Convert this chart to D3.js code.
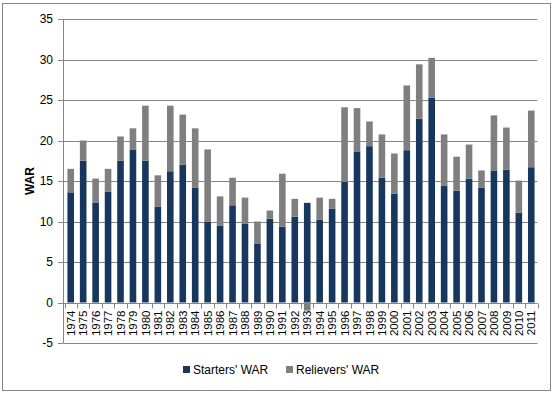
<!DOCTYPE html>
<html>
<head>
<meta charset="utf-8">
<script src="https://cdn.jsdelivr.net/npm/d3@7"></script>
<style>
  body { margin: 0; background: #fff; }
  text { font-family: "Liberation Sans", Arial, sans-serif; fill: #000; }
</style>
</head>
<body>
<div id="chart"></div>
<script>
const years = [1974, 1975, 1976, 1977, 1978, 1979, 1980, 1981, 1982, 1983,
    1984, 1985, 1986, 1987, 1988, 1989, 1990, 1991, 1992, 1993,
    1994, 1995, 1996, 1997, 1998, 1999, 2000, 2001, 2002, 2003,
    2004, 2005, 2006, 2007, 2008, 2009, 2010, 2011]
// starters' WAR
const starters = [13.6, 17.5, 12.3, 13.7, 17.5, 18.9, 17.5, 11.8, 16.2, 17.0,
    14.2, 10.0, 9.5, 12.0, 9.7, 7.3, 10.35, 9.35, 10.6, 12.3,
    10.2, 11.6, 14.9, 18.65, 19.3, 15.4, 13.45, 18.8, 22.7, 25.3,
    14.4, 13.8, 15.3, 14.2, 16.3, 16.4, 11.1, 16.7]
// relievers' WAR
const relievers = [2.9, 2.5, 3.0, 2.8, 3.0, 2.6, 6.8, 3.9, 8.1, 6.2,
    7.3, 8.9, 3.6, 3.4, 3.25, 2.7, 1.0, 6.55, 2.2, -1.0,
    2.75, 1.2, 9.2, 5.35, 3.05, 5.35, 4.95, 8.0, 6.7, 4.9,
    6.35, 4.2, 4.2, 2.1, 6.8, 5.2, 3.95, 7.0]
const seriesNames = ["Starters' WAR", "Relievers' WAR"]
const yTicks = [-5, 0, 5, 10, 15, 20, 25, 30, 35]

const width = 555
const height = 393
const colors = ["#17375e", "#7f7f7f"]
const gridColor = "#868686"

const svg = d3.select("#chart").append("svg")
    .attr("width", width)
    .attr("height", height)

// outer frame
svg.append("rect")
    .attr("x", 2.5).attr("y", 3.5)
    .attr("width", 548).attr("height", 387)
    .attr("fill", "#fff")
    .attr("stroke", gridColor)

const x = d3.scaleBand()
    .domain(years)
    .range([64.5, 537.5])
    .paddingInner(0.47)
    .paddingOuter(0.235)

const y = d3.scaleLinear()
    .domain([-5, 35])
    .range([343, 19])

// gridlines
svg.append("g")
    .selectAll("line")
    .data(yTicks)
    .join("line")
    .attr("x1", 63.5)
    .attr("x2", 537.5)
    .attr("y1", d => Math.round(y(d)) + 0.5)
    .attr("y2", d => Math.round(y(d)) + 0.5)
    .attr("stroke", gridColor)

// stacked bars (negative values go below zero on their own)
const rows = years.map((yr, i) => ({ year: yr, s: starters[i], r: relievers[i] }))
const segs = []
for (const d of rows) {
    segs.push({ year: d.year, k: 0, y0: 0, y1: d.s })
    if (d.r >= 0) segs.push({ year: d.year, k: 1, y0: d.s, y1: d.s + d.r })
    else segs.push({ year: d.year, k: 1, y0: d.r, y1: 0 })
}
svg.append("g")
    .selectAll("rect")
    .data(segs)
    .join("rect")
    .attr("x", d => x(d.year))
    .attr("width", x.bandwidth())
    .attr("y", d => y(d.y1))
    .attr("height", d => y(d.y0) - y(d.y1))
    .attr("fill", d => colors[d.k])

// y axis
const yAxis = svg.append("g")
yAxis.append("line")
    .attr("x1", 63.5).attr("x2", 63.5)
    .attr("y1", y(35)).attr("y2", y(-5))
    .attr("stroke", gridColor)
yAxis.selectAll(".tk")
    .data(yTicks)
    .join("line")
    .attr("x1", 58).attr("x2", 63.5)
    .attr("y1", d => Math.round(y(d)) + 0.5)
    .attr("y2", d => Math.round(y(d)) + 0.5)
    .attr("stroke", gridColor)
yAxis.selectAll("text")
    .data(yTicks)
    .join("text")
    .attr("x", 53)
    .attr("y", d => y(d))
    .attr("dy", "0.36em")
    .attr("text-anchor", "end")
    .style("font-size", "12px")
    .text(d => d)

// x axis at zero
const y0 = Math.round(y(0)) + 0.5
const xAxis = svg.append("g")
xAxis.append("line")
    .attr("x1", 63.5).attr("x2", 537.5)
    .attr("y1", y0).attr("y2", y0)
    .attr("stroke", gridColor)
const step = x.step()
xAxis.selectAll(".tk")
    .data(d3.range(years.length + 1))
    .join("line")
    .attr("x1", i => Math.round(64.5 + i * (473 / years.length)) + 0.5)
    .attr("x2", i => Math.round(64.5 + i * (473 / years.length)) + 0.5)
    .attr("y1", y0).attr("y2", y0 + 5)
    .attr("stroke", gridColor)
xAxis.selectAll("text")
    .data(years)
    .join("text")
    .attr("transform", d => `translate(${x(d) + x.bandwidth() / 2},${y0 + 7}) rotate(-90)`)
    .attr("text-anchor", "end")
    .attr("dy", "0.36em")
    .style("font-size", "11.5px")
    .text(d => d)

// y title
svg.append("text")
    .attr("transform", "translate(30,181) rotate(-90)")
    .attr("text-anchor", "middle")
    .attr("dy", "0.36em")
    .style("font-size", "12px")
    .style("font-weight", "bold")
    .text("WAR")

// legend
const legendX = [183, 286]
const legend = svg.append("g")
    .selectAll("g")
    .data(seriesNames)
    .join("g")
    .attr("transform", (d, i) => `translate(${legendX[i]},366)`)
legend.append("rect")
    .attr("width", 7).attr("height", 7)
    .attr("fill", (d, i) => colors[i])
legend.append("text")
    .attr("x", 10)
    .attr("y", 4)
    .attr("dy", "0.36em")
    .style("font-size", "12px")
    .text(d => d)
</script>
</body>
</html>
